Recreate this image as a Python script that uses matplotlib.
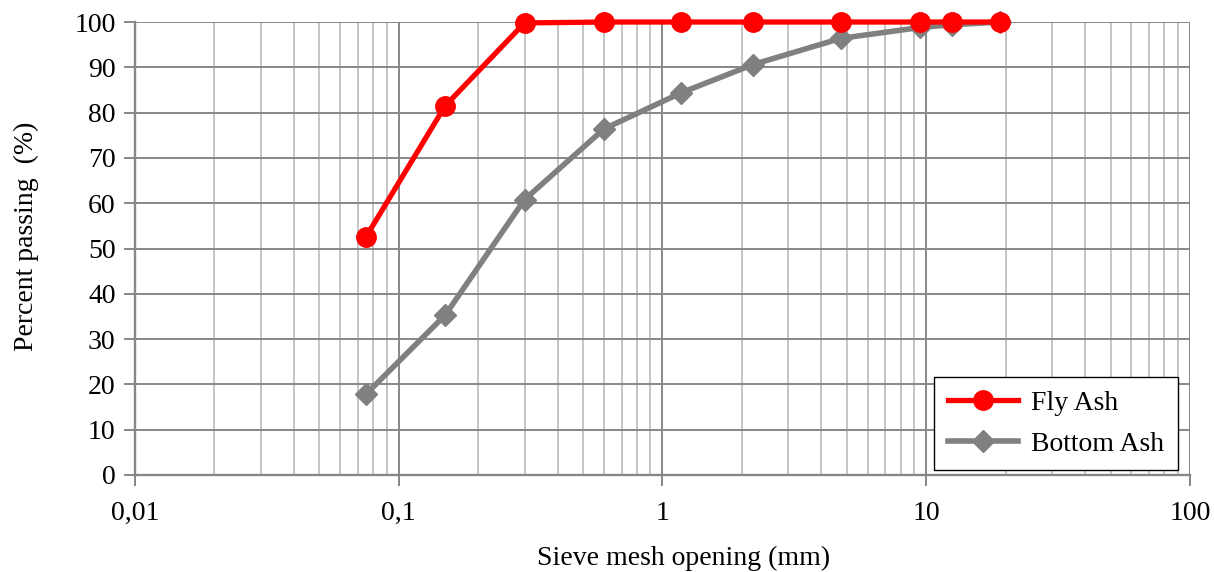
import matplotlib
matplotlib.use("Agg")
import matplotlib.pyplot as plt
from matplotlib.ticker import LogLocator, FixedLocator, FuncFormatter, NullFormatter

plt.rcParams['font.family'] = ['Liberation Serif', 'DejaVu Serif']

sieve_mm = [0.075, 0.15, 0.3, 0.6, 1.18, 2.2, 4.75, 9.5, 12.5, 19]
fly_ash = [52.5, 81.5, 99.8, 100, 100, 100, 100, 100, 100, 100]
bottom_ash = [17.8, 35.3, 60.8, 76.4, 84.4, 90.6, 96.4, 98.8, 99.4, 100]
x_ticks = [0.01, 0.1, 1, 10, 100]
x_tick_labels = ["0,01", "0,1", "1", "10", "100"]
y_ticks = list(range(0, 101, 10))

FS = 20

fig = plt.figure(figsize=(12.14, 5.72), dpi=100)
ax = fig.add_axes([0.1112, 0.1696, 0.869, 0.7919])

ax.set_xscale('log')
ax.set_xlim(0.01, 100)
ax.set_ylim(0, 100)

ax.xaxis.set_major_locator(FixedLocator(x_ticks))
ax.xaxis.set_major_formatter(FuncFormatter(lambda v, p: x_tick_labels[x_ticks.index(v)] if v in x_ticks else ""))
ax.xaxis.set_minor_locator(LogLocator(base=10, subs=range(2, 10)))
ax.xaxis.set_minor_formatter(NullFormatter())
ax.set_yticks(y_ticks)

ax.grid(which='major', color='#878787', linewidth=1.4)
ax.grid(which='minor', axis='x', color='#c4c4c4', linewidth=1.4)
ax.set_axisbelow(True)

for s in ['top', 'right']:
    ax.spines[s].set_visible(False)
for s in ['left', 'bottom']:
    ax.spines[s].set_color('#878787')
    ax.spines[s].set_linewidth(1.7)

ax.tick_params(which='major', axis='both', direction='out', length=8, width=1.4,
               color='#878787', labelsize=FS, pad=6)
ax.tick_params(which='major', axis='x', pad=11)
ax.tick_params(which='minor', axis='x', length=0)

ax.plot(sieve_mm, fly_ash, color='#ff0000', linewidth=3.8, marker='o', markersize=14,
        label='Fly Ash', zorder=4, clip_on=False)
ax.plot(sieve_mm, bottom_ash, color='#808080', linewidth=4.0, marker='D', markersize=11,
        label='Bottom Ash', zorder=3, clip_on=False)

leg = ax.legend(loc='lower right', bbox_to_anchor=(0.989, 0.010), fontsize=FS,
                frameon=True, fancybox=False, edgecolor='black', framealpha=1,
                borderpad=0.5, labelspacing=0.55, handlelength=2.5, handletextpad=0.5,
                borderaxespad=0)
leg.get_frame().set_linewidth(1.0)

fig.text(26 / 1214, 1 - 236 / 572, 'Percent passing  (%)', fontsize=FS,
         rotation=90, ha='center', va='center')
fig.text(684 / 1214, 0.002, 'Sieve mesh opening (mm)', fontsize=FS, ha='center', va='bottom')

fig.savefig('out.png', dpi=100)
